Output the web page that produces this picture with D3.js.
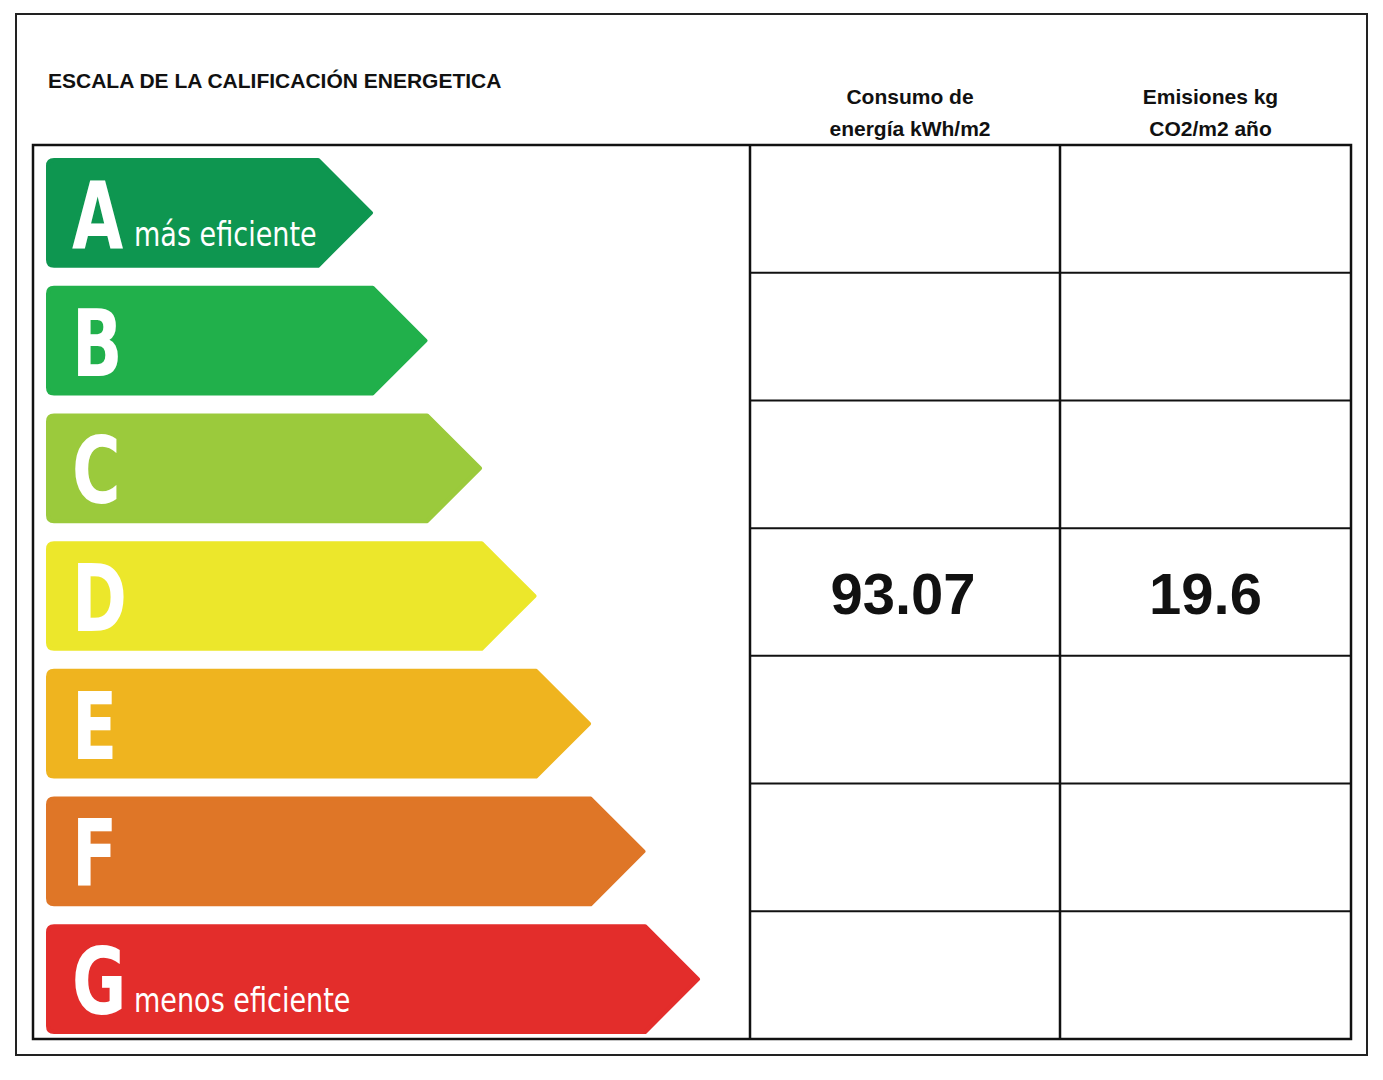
<!DOCTYPE html>
<html><head><meta charset="utf-8">
<script src="https://cdn.jsdelivr.net/npm/d3@7"></script>
<style>body{margin:0;background:#fff}</style></head>
<body><svg id="c" width="1383" height="1080"></svg>
<script>
const ratings = ["A","B","C","D","E","F","G"];
const colors = ["#0e9650","#21b04b","#9bca3c","#ece72b","#efb41f","#df7627","#e32d2b"];
const subLabels = ["más eficiente","","","","","","menos eficiente"];
const consumo = [null,null,null,"93.07",null,null,null];
const emisiones = [null,null,null,"19.6",null,null,null];
const title = "ESCALA DE LA CALIFICACIÓN ENERGETICA";
const colHeaders = [["Consumo de","energía kWh/m2"],["Emisiones kg","CO2/m2 año"]];

const svg = d3.select("#c");
const F = "Arial, 'Liberation Sans', sans-serif";
svg.append("rect").attr("x",16).attr("y",14).attr("width",1351).attr("height",1041).attr("fill","none").attr("stroke","#222").attr("stroke-width",2);
svg.append("text").attr("x",48).attr("y",88).text(title).attr("font-family",F).attr("font-weight","bold").attr("font-size",21).attr("fill","#111");

const y = d3.scaleBand().domain(ratings).range([145,1039]);
const cols = [750,1060,1351];
// table
svg.append("rect").attr("x",33).attr("y",145).attr("width",1318).attr("height",894).attr("fill","none").attr("stroke","#111").attr("stroke-width",2.5);
cols.slice(0,2).forEach(x=>svg.append("line").attr("x1",x).attr("x2",x).attr("y1",145).attr("y2",1039).attr("stroke","#111").attr("stroke-width",2.5));
ratings.slice(1).forEach(r=>svg.append("line").attr("x1",750).attr("x2",1351).attr("y1",y(r)).attr("y2",y(r)).attr("stroke","#111").attr("stroke-width",2));
colHeaders.forEach((h,i)=>{
  const cx=(cols[i]+cols[i+1])/2+5;
  h.forEach((t,j)=>svg.append("text").attr("x",cx).attr("y",104+j*32).attr("text-anchor","middle").text(t).attr("font-family",F).attr("font-weight","bold").attr("font-size",21).attr("fill","#111"));
});
// arrows
const tipX = d3.scaleLinear().domain([0,6]).range([371,698]);
ratings.forEach((r,i)=>{
  const top=y(r)+15, h=y.bandwidth()-22, x0=48, tip=tipX(i), be=tip-h/2, rr=6;
  const p = `M${x0+rr},${top} L${be},${top} L${tip},${top+h/2} L${be},${top+h} L${x0+rr},${top+h} Q${x0},${top+h} ${x0},${top+h-rr} L${x0},${top+rr} Q${x0},${top} ${x0+rr},${top}Z`;
  svg.append("path").attr("d",p).attr("fill",colors[i]).attr("stroke",colors[i]).attr("stroke-width",4).attr("stroke-linejoin","round");
  const ty=top+h/2+35;
  svg.append("text").attr("transform",`translate(72,${ty}) scale(0.72,1)`).text(r).attr("font-family","'DejaVu Sans',sans-serif").attr("font-weight","bold").attr("font-size",92).attr("fill","#fff");
  if(subLabels[i]) svg.append("text").attr("transform",`translate(134,${top+h/2+33}) scale(0.82,1)`).text(subLabels[i]).attr("font-family","'DejaVu Sans',sans-serif").attr("font-size",33).attr("fill","#fff");
  [consumo,emisiones].forEach((arr,k)=>{
    if(arr[i]) svg.append("text").attr("x",(cols[k]+cols[k+1])/2+ (k?0:-2)).attr("y",y(r)+y.bandwidth()/2+22).attr("text-anchor","middle").text(arr[i]).attr("font-family",F).attr("font-weight","bold").attr("font-size",58).attr("fill","#111");
  });
});
</script></body></html>
